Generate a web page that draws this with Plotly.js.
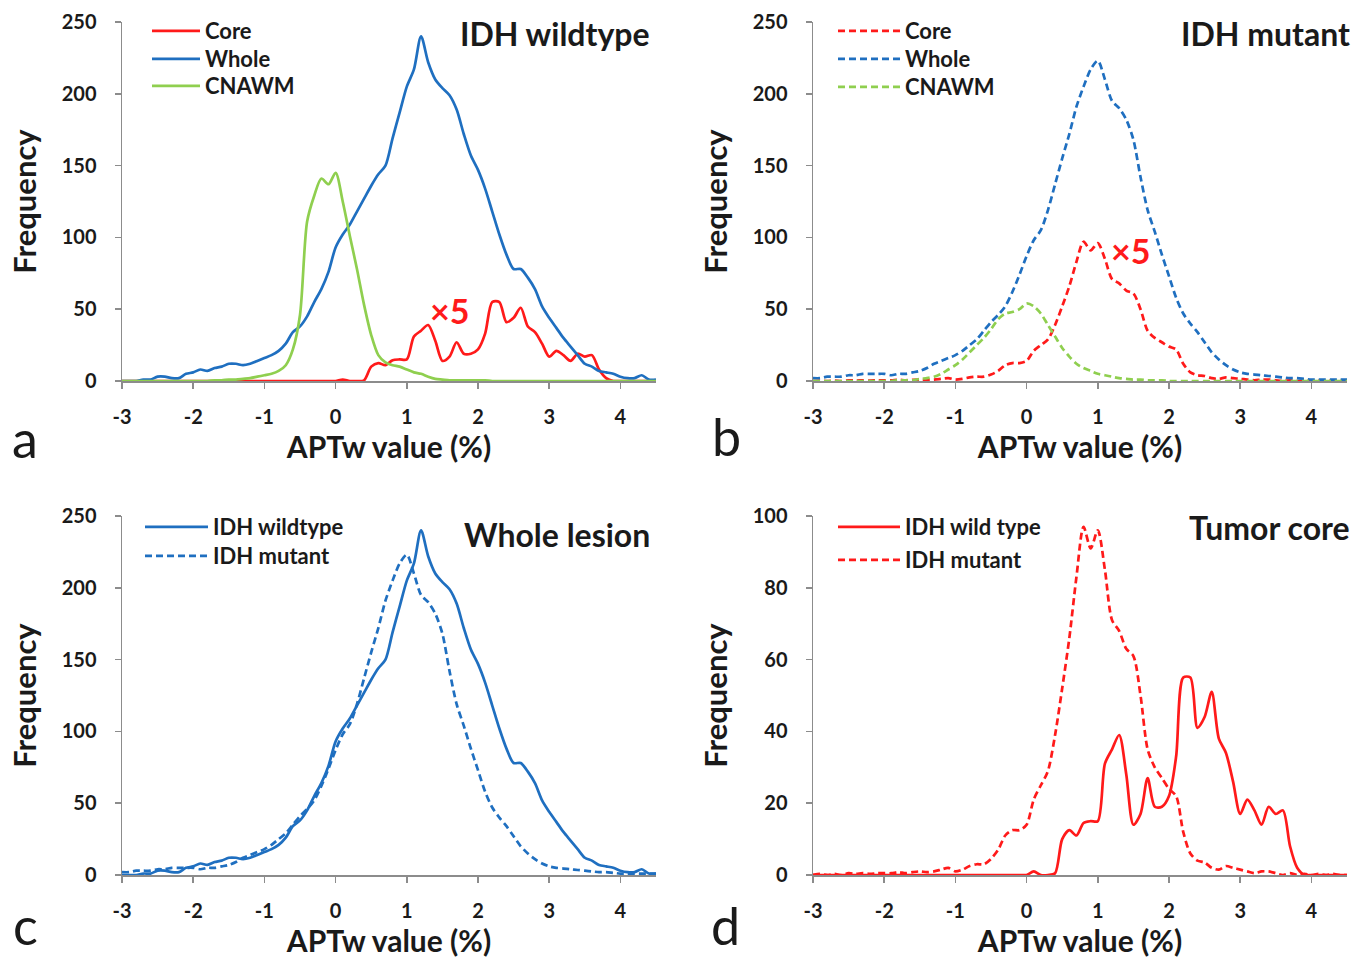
<!DOCTYPE html>
<html>
<head>
<meta charset="utf-8">
<script src="https://cdn.plot.ly/plotly-3.0.1.min.js"></script>
<style>html,body{margin:0;padding:0;background:#fff;}#chart{width:1371px;height:960px;}</style>
</head>
<body>
<div id="chart"></div>
<script>
// APTw value bins (%)
const aptw = [
 -3.0,-2.9,-2.8,-2.7,-2.6,-2.5,-2.4,-2.3,-2.2,-2.1,
 -2.0,-1.9,-1.8,-1.7,-1.6,-1.5,-1.4,-1.3,-1.2,-1.1,
 -1.0,-0.9,-0.8,-0.7,-0.6,-0.5,-0.4,-0.3,-0.2,-0.1,
  0.0, 0.1, 0.2, 0.3, 0.4, 0.5, 0.6, 0.7, 0.8, 0.9,
  1.0, 1.1, 1.2, 1.3, 1.4, 1.5, 1.6, 1.7, 1.8, 1.9,
  2.0, 2.1, 2.2, 2.3, 2.4, 2.5, 2.6, 2.7, 2.8, 2.9,
  3.0, 3.1, 3.2, 3.3, 3.4, 3.5, 3.6, 3.7, 3.8, 3.9,
  4.0, 4.1, 4.2, 4.3, 4.4, 4.5];

// IDH wildtype
const wtWhole = [
 0,0,0,1,1,3,3,2,2,5,
 6,8,7,9,10,12,12,11,12,14,
 16,18,21,26,34,38,45,55,64,76,
 93,102,109,118,127,136,144,150,169,187,
 205,217,240,222,210,204,199,189,172,157,
 147,134,118,102,88,78,78,72,64,52,
 44,37,30,24,18,12,10,7,6,5,
 3,2,2,4,1,1];
const wtCore = [ // x5
 0,0,0,0,0,0,0,0,0,0,
 0,0,0,0,0,0,0,0,0,0,
 0,0,0,0,0,0,0,0,0,0,
 0,1,0,0,0.5,10,12.5,11,14.5,15,
 15,31,35,39,28,14,17,27,19,19,
 22,33,55,55,41,44,51,38,34,26,
 17,21,18,14,19,17,18,8,2,0,
 0,0,0,0,0,0];
const wtCNAWM = [
 0,0,0,0,0,0,0,0,0,0,
 0,0,0,0.5,0.5,1,1,1.5,2,3,
 4,5,7,11,22,46,111,129,141,137,
 145,125,101,78,53,32,18,13,11,10,
 8,6,5,3,1.5,1,0.5,0.5,0.5,0.5,
 0.5,0.5,0,0,0,0,0,0,0,0,
 0,0,0,0,0,0,0,0,0,0,
 0,0,0,0,0,0];

// IDH mutant
const mutWhole = [
 2,2,3,3,3,4,4,5,5,5,
 5,4,5,5,6,7,9,12,14,16,
 18,21,25,29,35,41,46,52,62,74,
 87,98,105,119,137,155,172,191,205,217,
 223,210,195,190,182,168,142,119,104,88,
 73,58,47,40,34,27,20,15,11,8,
 6,5,4.5,4,3.5,3,2.5,2,2,1.5,
 1,1,1,1,1,1];
const mutCore = [ // x5
 0,0.3,0,0.3,0,0.5,0.3,0.5,0.3,0.5,
 0.5,0.5,0.8,0.5,0.8,1,0.8,1,1.5,2,
 1,1.5,2.5,3,3,4.5,7,11,12.5,12.5,
 14,21,25,29,39,52,66,83,97,91,
 96,85,71,68,63,61,50,35,30,27,
 24,22,12,6,4,3.5,2,1.5,2.5,2,
 1.5,1,0.5,1,1,0.5,0,0.5,0,0.3,
 0,0.3,0,0.3,0,0];
const mutCNAWM = [
 0,0,0,0,0,0,0,0,0,0,
 0,0,0.5,0.5,0.5,1.5,2,3,5,8,
 11,15,20,25,30,36,43,47,48,50,
 54,52,47,39,31,23,17,12,9,7,
 5,4,3,2,1.5,1,1,0.5,0.5,0.5,
 0,0,0,0,0,0,0,0,0,0,
 0,0,0,0,0,0,0,0,0,0,
 0,0,0,0,0,0];

const xTicks = [-3,-2,-1,0,1,2,3,4];
const xTickText = ['-3','-2','-1','0','1','2','3','4'];

const RED = '#ff1a1a', BLUE = '#1f6fc0', GREEN = '#8fcf4f';
const FONT = 'Lato, "Open Sans", sans-serif';
const DASH = '7px,4px';
const INK = '#1a1a1a';

function tr(y, name, color, dash, xa, ya, leg) {
  return {x: aptw, y: y, name: name, type: 'scatter', mode: 'lines',
    line: {color: color, width: 2.7, dash: dash, shape: 'spline', smoothing: 0.8},
    xaxis: xa, yaxis: ya, legend: leg, showlegend: true, hoverinfo: 'x+y'};
}

const data = [
  tr(wtCore, 'Core', RED, 'solid', 'x', 'y', 'legend'),
  tr(wtWhole, 'Whole', BLUE, 'solid', 'x', 'y', 'legend2'),
  tr(wtCNAWM, 'CNAWM', GREEN, 'solid', 'x', 'y', 'legend3'),
  tr(mutCore, 'Core', RED, DASH, 'x2', 'y2', 'legend4'),
  tr(mutWhole, 'Whole', BLUE, DASH, 'x2', 'y2', 'legend5'),
  tr(mutCNAWM, 'CNAWM', GREEN, DASH, 'x2', 'y2', 'legend6'),
  tr(wtWhole, 'IDH wildtype', BLUE, 'solid', 'x3', 'y3', 'legend7'),
  tr(mutWhole, 'IDH mutant', BLUE, DASH, 'x3', 'y3', 'legend8'),
  tr(wtCore, 'IDH wild type', RED, 'solid', 'x4', 'y4', 'legend9'),
  tr(mutCore, 'IDH mutant', RED, DASH, 'x4', 'y4', 'legend10')
];

const W = 1371, H = 960;
const px = v => v / W, py = v => 1 - v / H;

function xax(dom, anchor) {
  return {domain: dom, anchor: anchor, range: [-3, 4.5], tickvals: xTicks, ticktext: xTickText,
    showgrid: false, zeroline: false, showline: true, linecolor: '#8c8c8c', linewidth: 1.5,
    ticks: 'outside', ticklen: 6, tickwidth: 1.5, tickcolor: '#8c8c8c', ticklabelstandoff: 11,
    tickfont: {family: FONT, size: 20, color: INK, weight: 700},
    title: {text: 'APTw value (%)', standoff: 9, font: {family: FONT, size: 30, color: INK, weight: 700}},
    fixedrange: true};
}
function yax(dom, anchor, max, dt) {
  return {domain: dom, anchor: anchor, range: [0, max], dtick: dt,
    showgrid: false, zeroline: false, showline: true, linecolor: '#8c8c8c', linewidth: 1.5,
    ticks: 'outside', ticklen: 6, tickwidth: 1.5, tickcolor: '#8c8c8c', ticklabelstandoff: 14,
    tickfont: {family: FONT, size: 20, color: INK, weight: 700},
    title: {text: 'Frequency', standoff: 16, font: {family: FONT, size: 31, color: INK, weight: 700}},
    fixedrange: true};
}

const xL = [px(122), px(656)], xR = [px(813), px(1347)];
const yT = [py(381), py(22)], yB = [py(875), py(516)];

// one legend per entry so rows sit where the reference puts them
function leg(left, rowCenter, iw) {
  return {x: px(left), y: py(rowCenter - 21), xanchor: 'left', yanchor: 'top', bgcolor: 'rgba(0,0,0,0)', borderwidth: 0,
    font: {family: FONT, size: 22, color: INK, weight: 700}, itemwidth: iw,
    itemclick: false, itemdoubleclick: false};
}

function ann(text, x, y, size, opts) {
  return Object.assign({text: text, x: x, y: y, xref: 'paper', yref: 'paper', showarrow: false,
    xanchor: 'center', yanchor: 'middle',
    font: {family: FONT, size: size, color: INK, weight: 700}}, opts || {});
}
const letterFont = {family: FONT, size: 52, color: INK, weight: 400};

const layout = {
  width: W, height: H, margin: {l: 0, r: 0, t: 0, b: 0},
  paper_bgcolor: '#fff', plot_bgcolor: '#fff', showlegend: true,
  xaxis: xax(xL, 'y'), yaxis: yax(yT, 'x', 250, 50),
  xaxis2: xax(xR, 'y2'), yaxis2: yax(yT, 'x2', 250, 50),
  xaxis3: xax(xL, 'y3'), yaxis3: yax(yB, 'x3', 250, 50),
  xaxis4: xax(xR, 'y4'), yaxis4: yax(yB, 'x4', 100, 20),
  legend: leg(147, 31, 48), legend2: leg(147, 59, 48), legend3: leg(147, 86, 48),
  legend4: leg(833, 31, 62), legend5: leg(833, 59, 62), legend6: leg(833, 87, 62),
  legend7: leg(140, 527, 63), legend8: leg(140, 556, 63),
  legend9: leg(833, 527, 62), legend10: leg(833, 560, 62),
  annotations: [
    ann('IDH wildtype', px(652), py(34), 32, {xanchor: 'right'}),
    ann('IDH mutant', px(1352), py(34), 32, {xanchor: 'right'}),
    ann('Whole lesion', px(652), py(534), 32, {xanchor: 'right'}),
    ann('Tumor core', px(1352), py(527), 32, {xanchor: 'right'}),
    {text: '×5', x: 1.6, y: 49, xref: 'x', yref: 'y', showarrow: false, xanchor: 'center', yanchor: 'middle',
      font: {family: FONT, size: 34, color: RED, weight: 700}},
    {text: '×5', x: 1.46, y: 91, xref: 'x2', yref: 'y2', showarrow: false, xanchor: 'center', yanchor: 'middle',
      font: {family: FONT, size: 34, color: RED, weight: 700}},
    ann('a', px(25), py(438), 52, {font: letterFont}),
    ann('b', px(727), py(436), 52, {font: letterFont}),
    ann('c', px(25), py(958), 52, {font: letterFont, yanchor: 'bottom'}),
    ann('d', px(725), py(958), 52, {font: letterFont, yanchor: 'bottom'})
  ]
};

Plotly.newPlot('chart', data, layout, {displayModeBar: false, staticPlot: true});
</script>
</body>
</html>
